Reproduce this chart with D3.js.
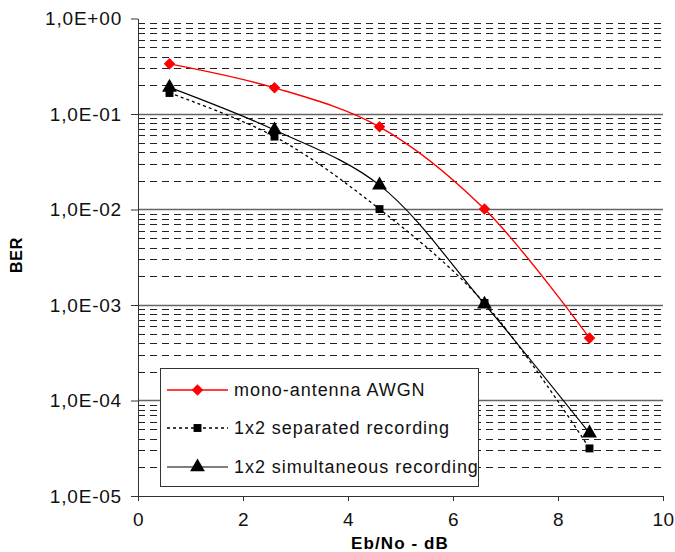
<!DOCTYPE html>
<html><head><meta charset="utf-8">
<script src="https://cdn.jsdelivr.net/npm/d3@7"></script>
<style>
body{margin:0;background:#fff;}
text{font-family:"Liberation Sans",Arial,sans-serif;}
</style></head>
<body><svg id="c" width="675" height="552"></svg>
<script>
const xValues = [0.6, 2.6, 4.6, 6.6, 8.6];
const monoAWGN = [0.335, 0.188, 0.0735, 0.0101, 0.00045];
const separated = [0.166, 0.058, 0.0101, 0.00105, 0.0000315];
const simultaneous = [0.19, 0.068, 0.018, 0.00102, 0.0000455];
const seriesNames = ["mono-antenna AWGN", "1x2 separated recording", "1x2 simultaneous recording"];
const xTicks = [0, 2, 4, 6, 8, 10];
const yTicks = [1, 1e-1, 1e-2, 1e-3, 1e-4, 1e-5];
const yTickLabels = ["1,0E+00", "1,0E-01", "1,0E-02", "1,0E-03", "1,0E-04", "1,0E-05"];

const svg = d3.select("#c");
const L = 138, R = 663, T = 18.5, B = 496;
const x = d3.scaleLinear().domain([0, 10]).range([L, R]);
const y = d3.scaleLog().domain([1e-5, 1]).range([B, T]);

// grid
const minor = [];
for (let e = -5; e < 0; e++) for (let m = 2; m <= 9; m++) minor.push(m * Math.pow(10, e));
svg.append("g").selectAll("line").data(minor).join("line")
  .attr("x1", L).attr("x2", R)
  .attr("y1", d => Math.round(y(d)) + 0.5).attr("y2", d => Math.round(y(d)) + 0.5)
  .attr("stroke", "#222").attr("stroke-width", 1).attr("stroke-dasharray", "7,5");
svg.append("g").selectAll("line").data(yTicks.slice(1, 5)).join("line")
  .attr("x1", L).attr("x2", R)
  .attr("y1", d => Math.round(y(d)) + 0.5).attr("y2", d => Math.round(y(d)) + 0.5)
  .attr("stroke", "#666").attr("stroke-width", 1.3);

// axes
const yAxis = svg.append("g").attr("transform", `translate(${L},0)`)
  .call(d3.axisLeft(y).tickValues(yTicks).tickSize(7).tickSizeOuter(0).tickPadding(9)
    .tickFormat((d, i) => yTickLabels[i]));
yAxis.selectAll("text").attr("font-size", 19).attr("letter-spacing", 0.8).attr("fill", "#111")
  .attr("font-family", "Liberation Sans, Arial, sans-serif");
yAxis.selectAll("line,path").attr("stroke", "#333");

const xAxis = svg.append("g").attr("transform", `translate(0,${B})`)
  .call(d3.axisBottom(x).tickValues(xTicks).tickSize(5).tickSizeOuter(0).tickPadding(12));
xAxis.selectAll("text").attr("font-size", 19).attr("letter-spacing", 0.5).attr("fill", "#111")
  .attr("font-family", "Liberation Sans, Arial, sans-serif");
xAxis.selectAll("line,path").attr("stroke", "#333");

svg.append("text").attr("x", 400).attr("y", 549).attr("text-anchor", "middle")
  .attr("font-size", 17).attr("font-weight", "bold").attr("letter-spacing", 1.1).text("Eb/No - dB");
svg.append("text").attr("transform", "translate(22,255) rotate(-90)").attr("text-anchor", "middle")
  .attr("font-size", 16).attr("font-weight", "bold").attr("letter-spacing", 0.8).text("BER");

// series
const line = d3.line().x(d => x(d[0])).y(d => y(d[1])).curve(d3.curveCatmullRom.alpha(0.5));
const zipped = s => xValues.map((v, i) => [v, s[i]]);
const series = [
  {vals: monoAWGN, color: "#ff0000", width: 1.4, dash: null, marker: "diamond"},
  {vals: separated, color: "#000", width: 1.3, dash: "3,3", marker: "square"},
  {vals: simultaneous, color: "#000", width: 1.2, dash: null, marker: "triangle"}
];
const sym = {
  diamond: d3.symbol().type(d3.symbolDiamond2).size(85),
  square: d3.symbol().type(d3.symbolSquare2).size(80),
  triangle: d3.symbol().type(d3.symbolTriangle).size(95)
};
[2, 1, 0].forEach(k => {
  const s = series[k];
  svg.append("path").datum(zipped(s.vals)).attr("d", line).attr("fill", "none")
    .attr("stroke", s.color).attr("stroke-width", s.width).attr("stroke-dasharray", s.dash);
});
[1, 2, 0].forEach(k => {
  const s = series[k];
  svg.append("g").selectAll("path").data(zipped(s.vals)).join("path")
    .attr("transform", d => `translate(${x(d[0])},${y(d[1])})`)
    .attr("d", sym[s.marker]).attr("fill", s.color);
});

// legend
const lg = svg.append("g");
lg.append("rect").attr("x", 160.5).attr("y", 368.5).attr("width", 318).attr("height", 118)
  .attr("fill", "#fff").attr("stroke", "#333").attr("stroke-width", 1);
const ly = [390, 428, 467];
series.forEach((s, i) => {
  lg.append("line").attr("x1", 167).attr("x2", 228).attr("y1", ly[i]).attr("y2", ly[i])
    .attr("stroke", s.color).attr("stroke-width", s.width).attr("stroke-dasharray", s.dash);
  lg.append("path").attr("transform", `translate(197.5,${ly[i]})`).attr("d", sym[s.marker]).attr("fill", s.color);
  lg.append("text").attr("x", 234).attr("y", ly[i] + 6).attr("font-size", 18)
    .attr("letter-spacing", 0.95).attr("fill", "#111").text(seriesNames[i]);
});
</script></body></html>
